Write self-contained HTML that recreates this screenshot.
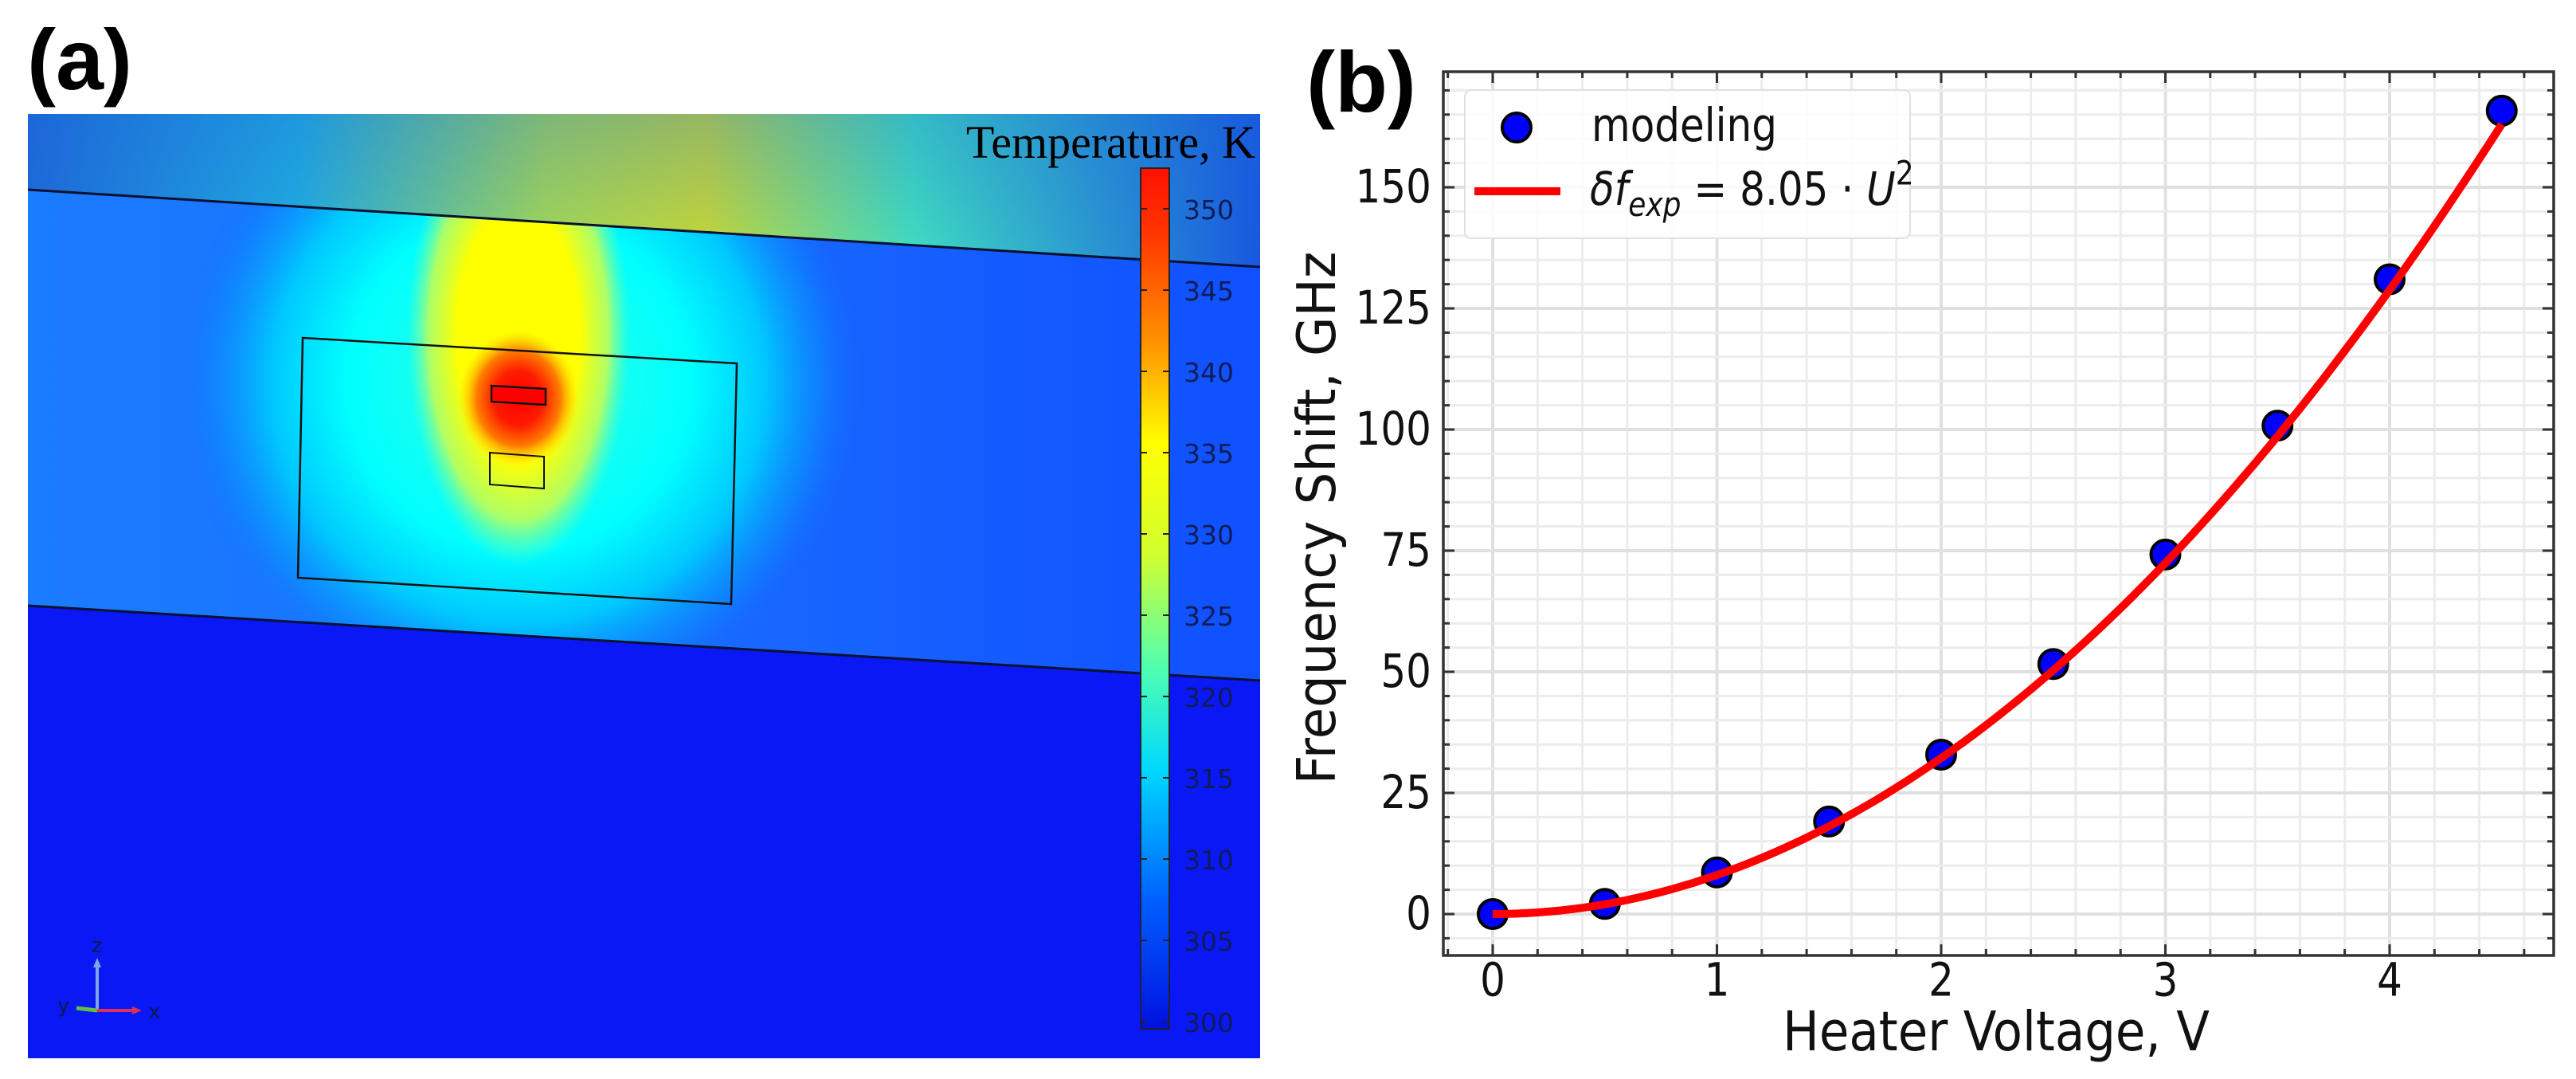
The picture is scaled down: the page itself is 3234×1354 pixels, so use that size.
<!DOCTYPE html>
<html><head><meta charset="utf-8"><style>
html,body{margin:0;padding:0;background:#fff;}
body{width:3234px;height:1354px;overflow:hidden;position:relative;}
svg{position:absolute;left:0;top:0;}
</style></head><body>
<svg width="3234" height="1354" viewBox="0 0 3234 1354" xmlns="http://www.w3.org/2000/svg">
<defs>
  <radialGradient id="halo">
    <stop offset="0" stop-color="#30ffe0"/>
    <stop offset="0.5" stop-color="#00ffff"/>
    <stop offset="0.72" stop-color="#00c8ff"/>
    <stop offset="0.88" stop-color="#0a90ff" stop-opacity="0.6"/>
    <stop offset="1" stop-color="#1070ff" stop-opacity="0"/>
  </radialGradient>
  <radialGradient id="yel">
    <stop offset="0" stop-color="#ffff00"/>
    <stop offset="0.55" stop-color="#ffff00"/>
    <stop offset="0.8" stop-color="#d8ff40" stop-opacity="0.8"/>
    <stop offset="1" stop-color="#80ffa0" stop-opacity="0"/>
  </radialGradient>
  <radialGradient id="hot">
    <stop offset="0" stop-color="#ff0000"/>
    <stop offset="0.4" stop-color="#ff1a00"/>
    <stop offset="0.7" stop-color="#ff7a00"/>
    <stop offset="1" stop-color="#ffd000" stop-opacity="0"/>
  </radialGradient>
  <linearGradient id="topband" x1="0" y1="0" x2="1" y2="0">
    <stop offset="0" stop-color="#1e6ad8"/>
    <stop offset="0.22" stop-color="#20b0e0"/>
    <stop offset="0.42" stop-color="#a8dc50"/>
    <stop offset="0.55" stop-color="#ccdc30"/>
    <stop offset="0.72" stop-color="#40e0c0"/>
    <stop offset="1" stop-color="#1858e0"/>
  </linearGradient>
  <linearGradient id="topfade" x1="0" y1="0" x2="0" y2="1">
    <stop offset="0" stop-color="#1860d8" stop-opacity="0.3"/>
    <stop offset="1" stop-color="#1860d8" stop-opacity="0"/>
  </linearGradient>
  <linearGradient id="midband" x1="0" y1="0" x2="1" y2="0">
    <stop offset="0" stop-color="#1a7cff"/>
    <stop offset="0.5" stop-color="#1a6cff"/>
    <stop offset="1" stop-color="#1050ff"/>
  </linearGradient>
  <linearGradient id="cbar" x1="0" y1="1" x2="0" y2="0">
    <stop offset="0" stop-color="#0010e0"/>
    <stop offset="0.15" stop-color="#0060ff"/>
    <stop offset="0.3" stop-color="#00d8ff"/>
    <stop offset="0.42" stop-color="#50ffb0"/>
    <stop offset="0.55" stop-color="#d0ff30"/>
    <stop offset="0.68" stop-color="#ffff00"/>
    <stop offset="0.8" stop-color="#ff9000"/>
    <stop offset="0.92" stop-color="#ff3800"/>
    <stop offset="1" stop-color="#ff1000"/>
  </linearGradient>
  <clipPath id="mapclip"><rect x="35" y="143" width="1547" height="1185"/></clipPath>
  <clipPath id="aboveLower"><polygon points="35,143 1582,143 1582,854 35,760"/></clipPath>
  <clipPath id="topclip"><polygon points="35,143 1582,143 1582,335 35,238"/></clipPath>
</defs>

<text x="34" y="112" font-family="Liberation Sans, sans-serif" font-weight="bold" font-size="108">(a)</text>
<g clip-path="url(#mapclip)">
  <rect x="35" y="143" width="1547" height="1185" fill="#0a18f6"/>
  <polygon points="35,238 1582,335 1582,854 35,760" fill="url(#midband)"/>
  <g clip-path="url(#aboveLower)">
    <ellipse cx="651" cy="480" rx="430" ry="420" fill="url(#halo)"/>
    <ellipse cx="651" cy="420" rx="140" ry="290" fill="url(#yel)"/>
    <ellipse cx="651" cy="500" rx="75" ry="85" fill="url(#hot)"/>
  </g>
  <g clip-path="url(#topclip)">
    <rect x="35" y="143" width="1547" height="200" fill="url(#topband)"/>
    <rect x="35" y="143" width="1547" height="200" fill="url(#topfade)"/>
  </g>
  <line x1="35" y1="238" x2="1582" y2="335" stroke="#0a1030" stroke-width="3"/>
  <line x1="35" y1="760" x2="1582" y2="854" stroke="#0a1030" stroke-width="3"/>
  <polygon points="380,424 925,456 918,758 374,725" fill="none" stroke="#111" stroke-width="2.5"/>
  <polygon points="617,484 685,488 685,508 617,504" fill="#ff0000" stroke="#111" stroke-width="2.5"/>
  <polygon points="615,568 683,573 683,613 615,608" fill="none" stroke="#111" stroke-width="2"/>
  <g>
    <line x1="122" y1="1268" x2="122" y2="1212" stroke="#7aa8e0" stroke-width="4"/>
    <polygon points="117,1214 127,1214 122,1202" fill="#7aa8e0"/>
    <line x1="122" y1="1268" x2="168" y2="1268" stroke="#e0305a" stroke-width="4"/>
    <polygon points="166,1263 166,1273 178,1268" fill="#e0305a"/>
    <line x1="122" y1="1268" x2="96" y2="1265" stroke="#60c040" stroke-width="5"/>
    <text x="115" y="1195" font-family="DejaVu Sans, sans-serif" font-size="26" fill="#0a1a50">z</text>
    <text x="186" y="1278" font-family="DejaVu Sans, sans-serif" font-size="26" fill="#0a1a50">x</text>
    <text x="72" y="1270" font-family="DejaVu Sans, sans-serif" font-size="26" fill="#0a1a50">y</text>
  </g>
  <text x="1576" y="198" text-anchor="end" font-family="Liberation Serif, serif" font-size="58" fill="#000">Temperature, K</text>
  <rect x="1432" y="211" width="36" height="1080" fill="url(#cbar)" stroke="#222" stroke-width="2"/>
  <g id="cbticks"></g>
</g>

<text x="1640" y="140" font-family="Liberation Sans, sans-serif" font-weight="bold" font-size="108">(b)</text>
<g id="chart"></g>
</svg>
<script>
const voltages = [0, 0.5, 1, 1.5, 2, 2.5, 3, 3.5, 4, 4.5];
const shifts = [0, 2.1, 8.6, 19.1, 32.9, 51.6, 74.2, 100.8, 131, 165.8];
const fitCoefficient = [8.05];
const xTickValues = [0, 1, 2, 3, 4];
const yTickValues = [0, 25, 50, 75, 100, 125, 150];
const colorbarTicks = [300, 305, 310, 315, 320, 325, 330, 335, 340, 345, 350];

const NS = 'http://www.w3.org/2000/svg';
function mk(tag, attrs, parent){ const e=document.createElementNS(NS,tag); for(const k in attrs) e.setAttribute(k,attrs[k]); parent.appendChild(e); return e; }

const cb = document.getElementById('cbticks');
function cbY(v){ return 262 + (350 - v) * 102 / 5; }
colorbarTicks.forEach(v=>{
  const y=cbY(v);
  mk('line',{x1:1432,y1:y,x2:1440,y2:y,stroke:'#222','stroke-width':2},cb);
  mk('line',{x1:1460,y1:y,x2:1468,y2:y,stroke:'#222','stroke-width':2},cb);
  const t=mk('text',{x:1486,y:y+13,'font-family':'DejaVu Sans, sans-serif','font-size':33,fill:'#101c58'},cb);
  
  
  t.textContent=v;
});

const L=1812, R=3206, T=90, B=1199;
function X(v){ return 1874 + v*281.5; }
function Y(v){ return 1147 - v*152/25; }
const g=document.getElementById('chart');
mk('rect',{x:L,y:T,width:R-L,height:B-T,fill:'#fff'},g);
for(let v=-0.2; v<=4.7; v+=0.2){ const vv=Math.round(v*10)/10; const x=X(vv); if(x<L||x>R) continue;
  const major = Math.abs(vv-Math.round(vv))<1e-6;
  mk('line',{x1:x,y1:T,x2:x,y2:B,stroke: major?'#e0e0e0':'#ececec','stroke-width':major?4:3},g);
}
for(let v=-5; v<=170; v+=5){ const y=Y(v); if(y<T||y>B) continue;
  const major = v%25===0;
  mk('line',{x1:L,y1:y,x2:R,y2:y,stroke: major?'#e0e0e0':'#ececec','stroke-width':major?4:3},g);
}
for(let v=-0.2; v<=4.7; v+=0.2){ const vv=Math.round(v*10)/10; const x=X(vv); if(x<L||x>R) continue;
  const major = Math.abs(vv-Math.round(vv))<1e-6; const len=major?14:8;
  mk('line',{x1:x,y1:B,x2:x,y2:B-len,stroke:'#333','stroke-width':3},g);
  mk('line',{x1:x,y1:T,x2:x,y2:T+len,stroke:'#333','stroke-width':3},g);
}
for(let v=-5; v<=170; v+=5){ const y=Y(v); if(y<T||y>B) continue;
  const major = v%25===0; const len=major?14:8;
  mk('line',{x1:L,y1:y,x2:L+len,y2:y,stroke:'#333','stroke-width':3},g);
  mk('line',{x1:R,y1:y,x2:R-len,y2:y,stroke:'#333','stroke-width':3},g);
}
mk('rect',{x:L,y:T,width:R-L,height:B-T,fill:'none',stroke:'#333','stroke-width':3.5},g);
xTickValues.forEach(v=>{
  const t=mk('text',{x:X(v),y:1249,'text-anchor':'middle','font-family':'DejaVu Sans, sans-serif','font-size':50,fill:'#111',transform:'translate(0 -187) scale(1 1.15)'},g);
  
  
  t.textContent=v;
});
yTickValues.forEach(v=>{
  const y=Y(v)+19;
  const t=mk('text',{x:1797,y:y,'text-anchor':'end','font-family':'DejaVu Sans, sans-serif','font-size':50,fill:'#111',transform:'translate(0 '+(-0.15*y)+') scale(1 1.15)'},g);
  
  
  t.textContent=v;
});
const xl=mk('text',{x:2506,y:1318,'text-anchor':'middle','font-family':'DejaVu Sans, sans-serif','font-size':61,fill:'#111',transform:'translate(0 -158) scale(1 1.12)'},g);


xl.textContent='Heater Voltage, V';
const yl=mk('text',{x:0,y:0,transform:'translate(1676 650) rotate(-90) scale(1.05 1.1)','text-anchor':'middle','font-family':'DejaVu Sans, sans-serif','font-size':61,fill:'#111'},g);


yl.textContent='Frequency Shift, GHz';

let pts=[];
for(let i=0;i<=90;i++){ const u=i*voltages[voltages.length-1]/90; pts.push(X(u).toFixed(1)+','+Y(fitCoefficient[0]*u*u).toFixed(1)); }
voltages.forEach((v,i)=>{
  const c=mk('circle',{cx:X(v),cy:Y(shifts[i]),r:18,fill:'#0000ff',stroke:'#000','stroke-width':4},g);
  
  
});
const fl=mk('polyline',{points:pts.join(' '),fill:'none',stroke:'#ff0000','stroke-width':10,'stroke-linecap':'butt','stroke-linejoin':'round'},g);



const lg=mk('g',{},g);


mk('rect',{x:1839,y:113,width:559,height:186,rx:8,fill:'#fff','fill-opacity':0.85,stroke:'#e0e0e0','stroke-width':2},lg);
mk('circle',{cx:1904,cy:160,r:18,fill:'#0000ff',stroke:'#000','stroke-width':4},lg);
const lt1=mk('text',{x:1998,y:177,'font-family':'DejaVu Sans, sans-serif','font-size':50,fill:'#111',transform:'translate(0 -26.5) scale(1 1.15)'},lg);


lt1.textContent='modeling';
mk('line',{x1:1851,y1:240,x2:1959,y2:240,stroke:'#ff0000','stroke-width':10},lg);
const lt2=mk('text',{x:1996,y:257,'font-family':'DejaVu Sans, sans-serif','font-size':50,fill:'#111',transform:'translate(0 -38.5) scale(1 1.15)'},lg);


lt2.innerHTML='<tspan font-style="italic">δf</tspan><tspan font-style="italic" font-size="36" dy="12">exp</tspan><tspan dy="-12"> = 8.05 · </tspan><tspan font-style="italic">U</tspan><tspan font-size="36" dy="-22">2</tspan>';
</script>
</body></html>
